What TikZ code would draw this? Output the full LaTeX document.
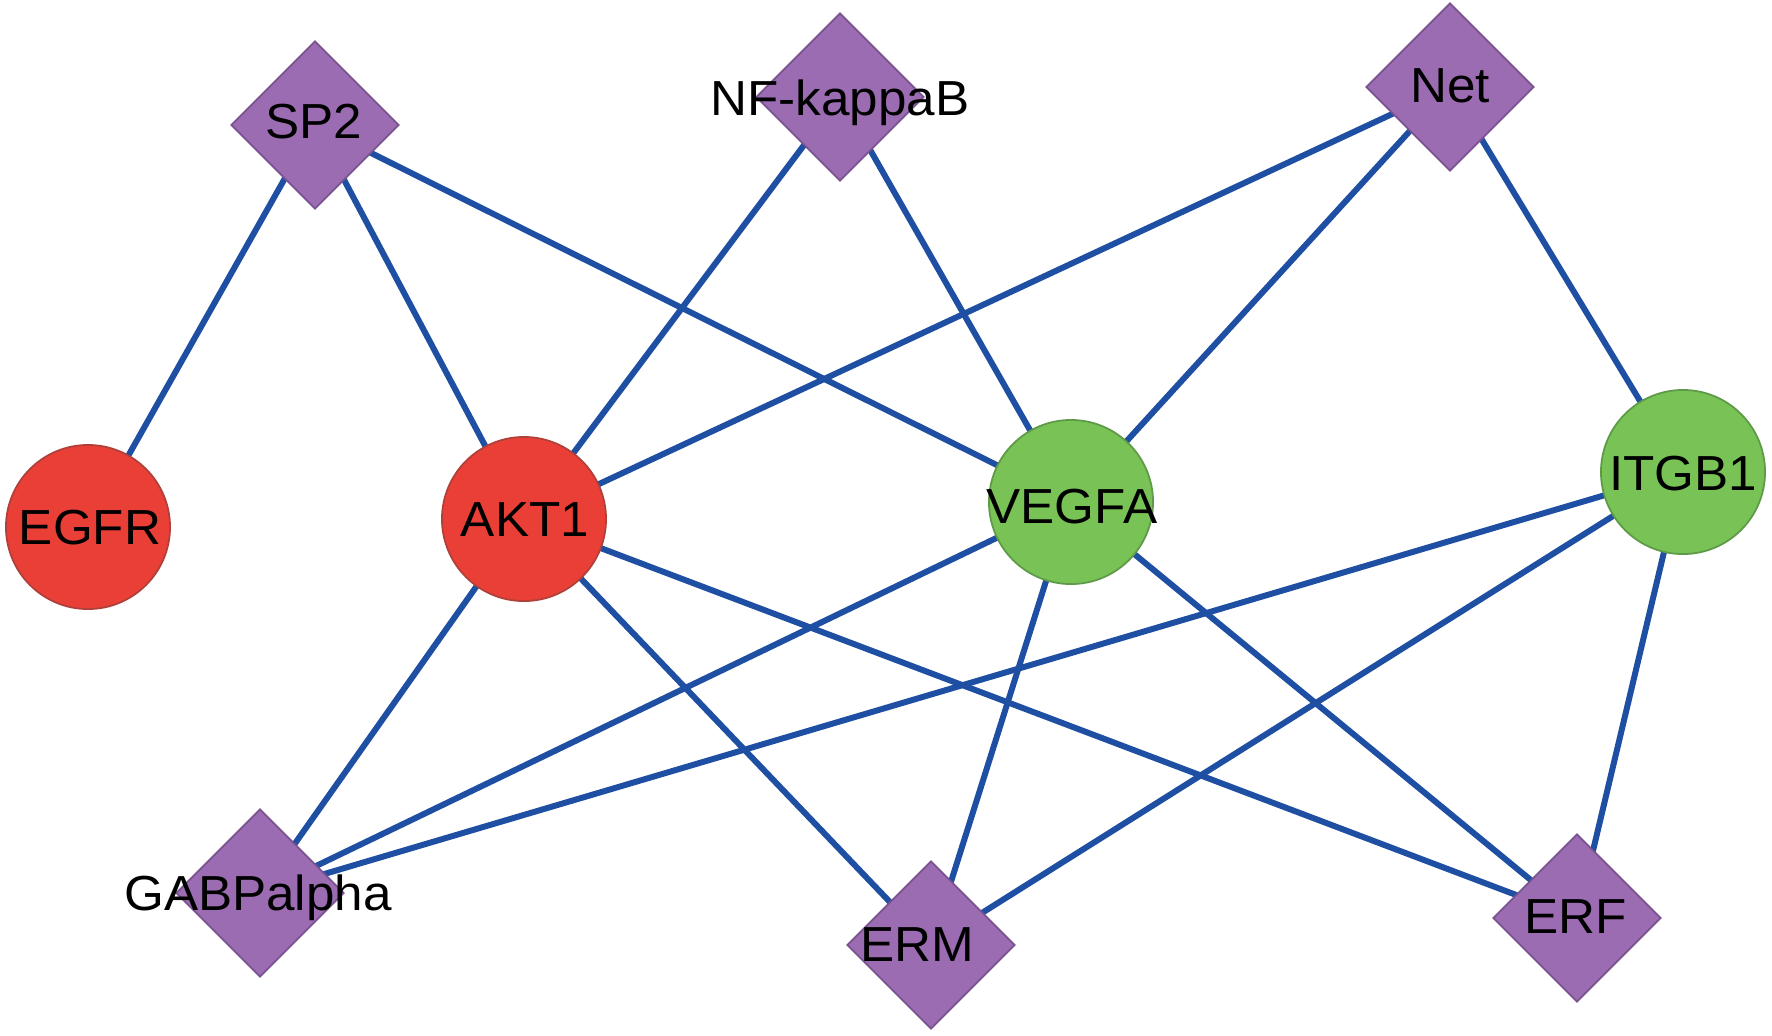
\documentclass[tikz,border=0pt]{standalone}
\usepackage{fontspec}
\setmainfont{Liberation Sans}[FakeStretch=1.04]
\usetikzlibrary{shapes.geometric}
\pgfdeclarelayer{bg}
\pgfsetlayers{bg,main}
\definecolor{nred}{HTML}{EA3F37}
\definecolor{nredb}{HTML}{B0403A}
\definecolor{ngreen}{HTML}{79C256}
\definecolor{ngreenb}{HTML}{5E9A48}
\definecolor{npurple}{HTML}{9B6CB2}
\definecolor{npurpleb}{HTML}{7A5290}
\definecolor{eblue}{HTML}{1E4FA3}
\begin{document}
\begin{tikzpicture}[x=0.01cm,y=-0.01cm,
  gene/.style={circle,draw=#1b,fill=#1,line width=0.5pt,minimum size=1.64cm,inner sep=0pt},
  tf/.style={diamond,draw=npurpleb,fill=npurple,line width=0.5pt,minimum width=1.68cm,minimum height=1.68cm,inner sep=0pt},
  lbl/.style={font=\fontsize{14}{14}\selectfont,inner sep=0pt,anchor=base,text=black},
  edge/.style={draw=eblue,line width=1.7pt}]
\useasboundingbox (0,0) rectangle (1772,1035);
% nodes
\node[tf] (sp2) at (315,125) {};
\node[tf] (nfk) at (840,97) {};
\node[tf] (net) at (1450,87) {};
\node[gene=nred] (egfr) at (88,527) {};
\node[gene=nred] (akt1) at (524,519) {};
\node[gene=ngreen] (vegfa) at (1071,502) {};
\node[gene=ngreen] (itgb1) at (1683,472) {};
\node[tf] (gab) at (260,893) {};
\node[tf] (erm) at (931,945) {};
\node[tf] (erf) at (1577,918) {};
% labels (baseline = cap centre + 18)
\node[lbl] (sp2t) at (314,138) {SP2};
\node[lbl] (nfkt) at (840,115) {NF-kappaB};
\node[lbl] (nett) at (1450,102) {Net};
\node[lbl] (egfrt) at (90,544) {EGFR};
\node[lbl] (akt1t) at (525,536) {AKT1};
\node[lbl] (vegfat) at (1072,523) {VEGFA};
\node[lbl] (itgb1t) at (1683,490) {ITGB1};
\node[lbl] (gabt) at (258,910) {GABPalpha};
\node[lbl] (ermt) at (917,961) {ERM};
\node[lbl] (erft) at (1576,933) {ERF};
% edges
\begin{pgfonlayer}{bg}
\fill[white] (0,0) rectangle (1772,1035);
\draw[edge] (sp2.center) -- (egfr.center);
\draw[edge] (sp2.center) -- (akt1.center);
\draw[edge] (sp2.center) -- (vegfa.center);
\draw[edge] (nfk.center) -- (akt1.center);
\draw[edge] (nfk.center) -- (vegfa.center);
\draw[edge] (net.center) -- (akt1.center);
\draw[edge] (net.center) -- (vegfa.center);
\draw[edge] (net.center) -- (itgb1.center);
\draw[edge] (akt1.center) -- (gab.center);
\draw[edge] (akt1.center) -- (erm.center);
\draw[edge] (akt1.center) -- (erf.center);
\draw[edge] (vegfa.center) -- (gab.center);
\draw[edge] (vegfa.center) -- (erm.center);
\draw[edge] (vegfa.center) -- (erf.center);
\draw[edge] (itgb1.center) -- (gab.center);
\draw[edge] (itgb1.center) -- (erm.center);
\draw[edge] (itgb1.center) -- (erf.center);
\end{pgfonlayer}
\end{tikzpicture}
\end{document}
